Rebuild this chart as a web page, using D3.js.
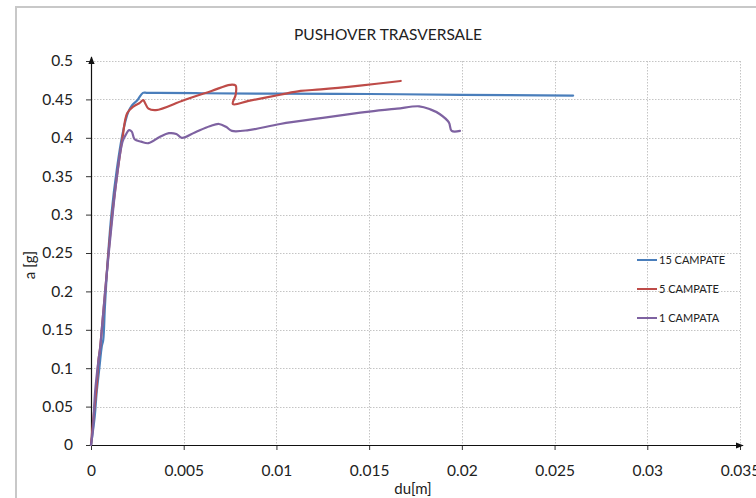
<!DOCTYPE html>
<html>
<head>
<meta charset="utf-8">
<script src="https://cdn.jsdelivr.net/npm/d3@7"></script>
<style>
  html, body { margin: 0; padding: 0; background: #fff; }
  svg { display: block; font-family: Lato, "Open Sans", sans-serif; }
</style>
</head>
<body>
<svg id="chart" width="756" height="498"></svg>
<script>
// Pushover curves: displacement du [m] vs spectral acceleration a [g]
const du15 = [0, 0.0002, 0.0003, 0.00045, 0.00058, 0.00066, 0.00075, 0.0009, 0.0011, 0.0014, 0.0017, 0.002, 0.0022, 0.0025, 0.0028, 0.003, 0.0036, 0.006, 0.01, 0.015, 0.02, 0.026];
const a15  = [0, 0.037, 0.067, 0.1, 0.128, 0.137, 0.18, 0.24, 0.3, 0.36, 0.405, 0.433, 0.442, 0.449, 0.4585, 0.4586, 0.4585, 0.458, 0.4575, 0.457, 0.456, 0.455];

const du5 = [0, 0.00012, 0.0003, 0.0004, 0.00049, 0.00058, 0.0008, 0.0011, 0.0014, 0.0017, 0.00195, 0.0023, 0.0026, 0.00282, 0.0029, 0.0031, 0.0035, 0.005, 0.0065, 0.0075, 0.0078, 0.0078, 0.00765, 0.0085, 0.0102, 0.0113, 0.0124, 0.0145, 0.0167];
const a5  = [0, 0.033, 0.075, 0.11, 0.126, 0.15, 0.21, 0.29, 0.35, 0.4, 0.432, 0.441, 0.445, 0.449, 0.446, 0.438, 0.436, 0.449, 0.461, 0.469, 0.468, 0.456, 0.444, 0.448, 0.456, 0.461, 0.463, 0.468, 0.474];

const du1 = [0, 0.0001, 0.00022, 0.0004, 0.00049, 0.00058, 0.0008, 0.0011, 0.0014, 0.0017, 0.0019, 0.00205, 0.0022, 0.00235, 0.0027, 0.0031, 0.0037, 0.0042, 0.0046, 0.0049, 0.0056, 0.0064, 0.0069, 0.0073, 0.0076, 0.0085, 0.0102, 0.0125, 0.015, 0.0165, 0.0177, 0.0183, 0.0188, 0.0193, 0.01945, 0.0199];
const a1  = [0, 0.02, 0.069, 0.11, 0.126, 0.15, 0.21, 0.284, 0.35, 0.395, 0.405, 0.41, 0.408, 0.398, 0.395, 0.393, 0.401, 0.406, 0.405, 0.4, 0.407, 0.415, 0.418, 0.414, 0.409, 0.41, 0.418, 0.426, 0.434, 0.438, 0.441, 0.437, 0.431, 0.42, 0.409, 0.409];

const seriesNames = ["15 CAMPATE", "5 CAMPATE", "1 CAMPATA"];
const seriesColors = ["#4a7ebb", "#be4b48", "#7e62a1"];
const xTicks = [0, 0.005, 0.01, 0.015, 0.02, 0.025, 0.03, 0.035];
const yTicks = [0, 0.05, 0.1, 0.15, 0.2, 0.25, 0.3, 0.35, 0.4, 0.45, 0.5];

const series = [
  du15.map((d, i) => [d, a15[i]]),
  du5.map((d, i) => [d, a5[i]]),
  du1.map((d, i) => [d, a1[i]])
];

const svg = d3.select("#chart");
const plotLeft = 91, plotRight = 740, plotTop = 61, plotBottom = 445;

const x = d3.scaleLinear().domain([0, 0.035]).range([plotLeft, plotRight]);
const y = d3.scaleLinear().domain([0, 0.5]).range([plotBottom, plotTop]);

// chart frame
svg.append("rect")
  .attr("x", 16).attr("y", 7).attr("width", 800).attr("height", 600)
  .attr("fill", "#fff").attr("stroke", "#c8c8c8").attr("stroke-width", 2);

// title
svg.append("text")
  .attr("x", 388).attr("y", 40)
  .attr("text-anchor", "middle")
  .attr("font-size", 15.5).attr("fill", "#222")
  .text("PUSHOVER TRASVERSALE");

// gridlines
const grid = svg.append("g").attr("stroke", "#c4c4c4").attr("stroke-dasharray", "1.5,1.5").attr("stroke-width", 1);
grid.selectAll("line.h").data(yTicks.slice(1)).join("line")
  .attr("x1", plotLeft).attr("x2", plotRight)
  .attr("y1", d => Math.round(y(d)) + 0.5).attr("y2", d => Math.round(y(d)) + 0.5);
grid.selectAll("line.v").data(xTicks.slice(1)).join("line")
  .attr("y1", plotTop).attr("y2", plotBottom)
  .attr("x1", d => Math.round(x(d)) + 0.5).attr("x2", d => Math.round(x(d)) + 0.5);

// axes
const fmt = d => String(+d.toFixed(3));
const yAxis = d3.axisLeft(y).tickValues(yTicks).tickFormat(fmt).tickSize(5).tickPadding(13);
const xAxis = d3.axisBottom(x).tickValues(xTicks).tickFormat(fmt).tickSize(5).tickPadding(21);

const gy = svg.append("g").attr("transform", `translate(${plotLeft},0)`).call(yAxis);
const gx = svg.append("g").attr("transform", `translate(0,${plotBottom})`).call(xAxis);
[gy, gx].forEach(g => {
  g.select(".domain").remove();
  g.selectAll(".tick line").attr("stroke", "#333");
  g.selectAll(".tick text").attr("font-family", "Lato, sans-serif").attr("font-size", 15.5).attr("fill", "#222");
});
gx.selectAll(".tick text").attr("dy", "0.35em");

// axis lines with arrowheads
svg.append("defs").append("marker")
  .attr("id", "arrow").attr("viewBox", "0 0 10 10")
  .attr("refX", 9).attr("refY", 5)
  .attr("markerWidth", 8).attr("markerHeight", 8)
  .attr("markerUnits", "userSpaceOnUse")
  .attr("orient", "auto")
  .append("path").attr("d", "M0,1 L10,5 L0,9 Z").attr("fill", "#111");

svg.append("line")
  .attr("x1", plotLeft + 0.5).attr("x2", plotLeft + 0.5)
  .attr("y1", plotBottom).attr("y2", plotTop - 4)
  .attr("stroke", "#111").attr("stroke-width", 1.2)
  .attr("marker-end", "url(#arrow)");
svg.append("line")
  .attr("x1", plotLeft).attr("x2", plotRight + 3)
  .attr("y1", plotBottom + 0.5).attr("y2", plotBottom + 0.5)
  .attr("stroke", "#111").attr("stroke-width", 1.2)
  .attr("marker-end", "url(#arrow)");

// axis titles
svg.append("text")
  .attr("transform", "translate(35,265) rotate(-90)")
  .attr("text-anchor", "middle")
  .attr("font-size", 15).attr("fill", "#222")
  .text("a [g]");
svg.append("text")
  .attr("x", 413).attr("y", 494)
  .attr("text-anchor", "middle")
  .attr("font-size", 15).attr("fill", "#222")
  .text("du[m]");

// curves
const line = d3.line()
  .x(d => x(d[0])).y(d => y(d[1]))
  .curve(d3.curveCatmullRom.alpha(0.5));

svg.append("g").selectAll("path").data(series).join("path")
  .attr("d", line)
  .attr("fill", "none")
  .attr("stroke", (d, i) => seriesColors[i])
  .attr("stroke-width", 2.2)
  .attr("stroke-linejoin", "round")
  .attr("stroke-linecap", "round");

// legend
const legend = svg.append("g").attr("transform", "translate(637,260)");
const items = legend.selectAll("g").data(seriesNames).join("g")
  .attr("transform", (d, i) => `translate(0,${i * 29})`);
items.append("line")
  .attr("x1", 0).attr("x2", 20).attr("y1", 0).attr("y2", 0)
  .attr("stroke", (d, i) => seriesColors[i]).attr("stroke-width", 2);
items.append("text")
  .attr("x", 22).attr("y", 0).attr("dy", "0.35em")
  .attr("font-size", 11).attr("fill", "#222")
  .text(d => d);
</script>
</body>
</html>
